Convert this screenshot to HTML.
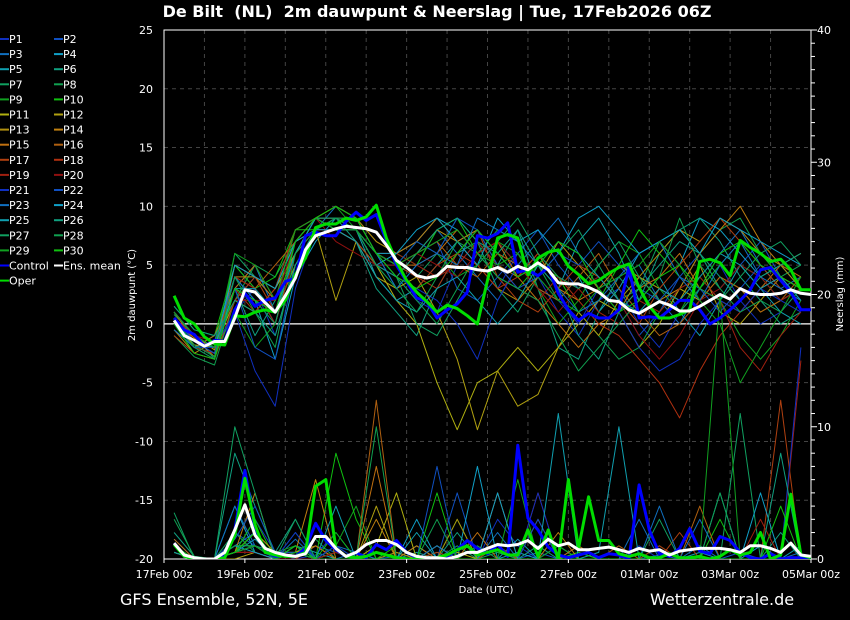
<!DOCTYPE html>
<html><head><meta charset="utf-8"><style>
html,body{margin:0;padding:0;background:#000;width:850px;height:620px;overflow:hidden}
svg{display:block;font-family:"DejaVu Sans","Liberation Sans",sans-serif}
</style></head><body>
<svg id="c" width="850" height="620" viewBox="0 0 850 620">
<rect width="850" height="620" fill="#000"/>
<text x="437" y="17" fill="#fff" font-size="16" font-weight="bold" text-anchor="middle" style="white-space:pre" xml:space="preserve">De Bilt  (NL)  2m dauwpunt &amp; Neerslag | Tue, 17Feb2026 06Z</text>
<text x="120" y="605" fill="#fff" font-size="16">GFS Ensemble, 52N, 5E</text>
<text x="650" y="605" fill="#fff" font-size="16">Wetterzentrale.de</text>
<text x="486" y="593" fill="#fff" font-size="10" text-anchor="middle">Date (UTC)</text>
<text transform="translate(135,295) rotate(-90)" fill="#fff" font-size="10" text-anchor="middle">2m dauwpunt (°C)</text>
<text transform="translate(843,294) rotate(-90)" fill="#fff" font-size="10" text-anchor="middle">Neerslag (mm)</text>
<g id="grid"></g>
<g id="axes"></g>
<defs><clipPath id="pc"><rect x="164" y="30" width="647" height="529"/></clipPath></defs>
<g id="series" clip-path="url(#pc)"></g>
<g id="legend"></g>
</svg>
<script>
const dateLabels=["17Feb 00z","19Feb 00z","21Feb 00z","23Feb 00z","25Feb 00z","27Feb 00z","01Mar 00z","03Mar 00z","05Mar 00z"];
const tempTicks=[25,20,15,10,5,0,-5,-10,-15,-20];
const precTicks=[40,30,20,10,0];
const meanT=[0.3,-1.0,-1.4,-1.9,-1.5,-1.5,0.5,2.9,2.7,1.8,1.0,2.4,3.9,6.3,7.5,7.8,8.1,8.3,8.2,8.1,7.8,6.7,5.4,4.8,4.1,3.9,4.1,4.9,4.8,4.8,4.6,4.5,4.8,4.4,4.9,4.6,5.2,4.6,3.5,3.4,3.4,3.1,2.7,2.0,1.9,1.2,0.9,1.4,1.9,1.6,1.1,1.1,1.5,2.0,2.5,2.1,3.0,2.6,2.5,2.5,2.6,2.9,2.6,2.5];
const operT=[2.4,0.5,0,-1.1,-1.7,-1.8,0.7,0.6,1.0,1.2,1.0,2.0,4.2,5.6,8.2,8.5,8.5,9.0,8.8,9.1,10.1,7.3,5.3,3.7,2.7,1.9,1.0,1.6,1.3,0.7,0,3.7,7.3,7.6,7.3,4.2,5.6,6.1,6.3,4.9,4.2,3.4,3.7,4.3,4.8,5.1,3.1,1.5,0.5,0.5,0.8,1.2,5.3,5.5,5.2,4.1,7.1,6.5,6.0,5.3,5.5,4.6,2.9,2.9];
const ctrlT=[0.5,-0.5,-0.9,-1.9,-1.4,-1.5,1.2,2.6,1.5,2.0,2.2,3.6,3.9,7.5,7.8,7.5,7.5,8.7,9.5,8.8,9.3,7.1,5.0,3.6,2.2,1.9,0.5,1.2,1.7,2.7,7.5,7.3,7.7,8.6,4.4,4.6,4.1,4.8,2.6,1.2,0.3,0.9,0.5,0.5,1.2,4.8,0.5,0.6,0.5,1.2,2.0,2.0,1.2,0,0.5,1.2,2.0,2.9,4.6,4.8,3.7,2.7,1.2,1.2];
const meanP=[1.2,0.3,0.1,0,0,0.5,2.2,4.1,1.8,0.8,0.5,0.3,0.2,0.4,1.7,1.7,0.8,0.2,0.5,1.1,1.4,1.4,1.1,0.5,0.2,0.1,0.1,0,0.2,0.5,0.5,0.8,1.1,1.0,1.1,1.4,0.8,1.5,1.0,1.2,0.7,0.7,0.8,0.9,0.7,0.5,0.8,0.6,0.7,0.3,0.6,0.7,0.8,0.8,0.8,0.7,0.5,1.0,1.0,0.8,0.5,1.2,0.3,0.2];
const operP=[1.1,0.2,0,0,0,0.1,1.8,6.1,2.6,0.5,0.3,0.2,0.2,0.5,5.5,6.0,0.8,0.2,0.1,0.2,0.5,0.3,0.1,0,0,0,0.1,0.3,0.7,1.0,0.3,0.5,0.7,0.3,0.3,2.2,0.2,2.2,0,6.0,0.8,4.7,1.4,1.4,0.4,0.2,0.4,0.1,0.1,0.4,0.1,0.1,0.2,0,0.2,0.7,0.3,0.5,2.0,0,0.3,4.9,0.3,0.1];
const ctrlP=[1.2,0.2,0,0,0,0.2,2.2,6.7,2.3,0.5,0.2,0.3,0.2,0.8,2.7,1.4,0.7,0.2,0.5,0.1,1.1,0.7,1.4,0.5,0.1,0,0.1,0.2,0.7,1.4,0.8,0.4,1.1,0.2,8.6,3.1,2.2,0.9,0.3,0.1,0.3,0.5,0.1,0.4,0.3,0,5.6,2.2,0.4,0.2,0.8,2.3,0.6,0.4,1.7,1.4,0.5,0.1,0,0.4,0,0.1,0.1,0.1];
const memT=[
[0,-2,-2.5,1,3,-1,5,8,9,8,6,4,2,1,5,7,3,6,4,1,-1,2,3,0,-2,1,3,5,2,0,1,3],
[1,-1,-2,2,4,2,6,9,8,7,5,5,6,7,3,2,4,6,8,5,3,4,2,-1,1,4,6,3,5,7,4,2],
[-0.5,-2,-1,3,5,1,7,8,10,9,6,3,5,8,6,4,2,5,7,9,6,3,4,5,2,0,3,6,8,5,3,4],
[0.5,-1.5,-2.5,4,2,-3,4,7,9,8,5,6,7,9,8,6,7,5,3,2,4,1,3,6,7,5,9,8,6,4,5,3],
[1,-1,-2,5,3,0,6,9,8,8,4,2,3,5,7,8,6,4,5,3,7,9,6,2,4,1,-1,2,5,3,1,0],
[0,-2.5,-3,3,-1,2,7,9,9,7,3,1,-1,3,6,7,5,8,3,-2,-3,1,4,2,6,8,9,7,4,2,0,1],
[0.8,-1,-3,6,4,3,8,9,8,8,6,5,4,6,9,7,3,1,4,6,8,5,2,3,7,8,6,3,5,4,2,3],
[-1,-2.8,-3.5,2,5,4,7,8,9,8,5,4,2,0,3,6,8,7,5,2,1,-1,-3,-2,1,3,6,8,9,6,4,5],
[0.5,-2,-2,1,-2,0,6,9,10,8,6,5,7,6,4,5,7,6,3,0,2,5,7,6,3,1,4,2,-1,-3,-1,2],
[1.5,-0.5,-1,5,3,4,8,8,9,9,7,6,5,8,9,6,4,3,5,4,1,2,5,8,6,4,3,5,7,6,4,3],
[0,-1.8,-2,2,1,3,6,9,8,7,5,2,0,-5,-9,-5,-4,-2,-4,-2,0,2,1,-2,0,3,2,4,3,1,2,3],
[1,-1,-2.2,3,2,1,5,8,2,7,4,3,4,1,-3,-9,-4,-7,-6,-2,1,-1,2,4,3,2,5,1,0,2,4,3],
[-0.5,-2.5,-1.5,4,4,3,7,9,9,8,6,5,6,8,7,5,3,2,4,7,5,3,1,4,6,8,7,9,8,6,5,3],
[0.3,-1.2,-2.8,5,4,2,8,9,10,9,7,6,7,9,7,8,5,4,6,3,2,3,5,4,2,3,6,8,10,7,5,6],
[0,-2,-1,3,5,2,6,8,9,8,6,5,5,6,8,6,7,4,2,0,-2,0,1,3,4,6,3,2,1,3,5,4],
[1,-1.5,-2,4,3,5,7,9,9,8,5,4,6,7,5,4,6,5,3,2,4,6,3,1,-1,0,2,4,3,1,2,4],
[-1,-2.5,-3,2,4,1,7,8,8,7,5,4,3,5,6,8,4,2,1,3,5,4,2,0,3,5,7,9,7,5,3,2],
[0.5,-1,-2,3,1,3,8,9,9,9,6,5,4,3,6,5,3,4,6,4,2,0,-1,-3,-5,-8,-4,-1,1,3,4,3],
[0,-2,-2.5,4,3,0,6,8,8,8,6,6,5,4,5,7,5,3,2,4,3,1,0,2,1,3,4,2,-2,-4,-1,1],
[1,-1,-1.5,2,2,2,7,9,7,6,5,5,6,5,4,6,7,5,3,1,3,4,2,-1,-3,-1,2,3,5,4,2,3],
[0,-2,-2,1,-4,-7,3,8,9,8,5,4,3,2,0,-3,2,5,4,2,0,3,1,-2,-4,-3,0,2,1,3,2,1],
[0.5,-1.5,-2.5,3,-2,-3,5,8,9,8,6,5,7,6,9,8,5,3,4,6,5,7,5,3,2,4,3,1,3,5,4,2],
[-0.5,-2,-1.5,4,2,1,6,9,9,8,6,3,5,6,5,9,8,7,5,3,1,2,4,6,7,4,2,5,7,4,3,2],
[1,-1,-2,5,4,3,7,8,8,8,6,6,8,9,7,5,9,7,8,6,9,10,8,6,7,8,6,9,8,7,6,5],
[0,-1.5,-2,3,3,1,6,9,8,7,4,2,1,3,4,2,0,2,5,7,6,4,2,1,3,2,4,6,5,3,4,2],
[1.5,-0.5,-1,2,1,-1,5,8,9,8,5,4,6,8,9,7,6,8,5,3,-1,-3,1,3,5,7,6,4,2,4,5,6],
[0,-2,-3,3,2,0,7,9,9,9,6,4,0,-1,2,5,7,9,6,4,3,5,7,4,2,1,3,2,4,6,7,5],
[0.5,-1.8,-2.8,4,1,-2,6,8,9,8,5,3,1,4,7,6,4,3,2,-1,-4,-2,0,2,4,9,5,3,1,2,1,3],
[1,-1,-2,6,5,2,8,9,8,8,6,5,6,7,8,6,5,6,4,2,1,3,4,5,7,5,2,0,-5,-2,1,4],
[0,-2.5,-3,3,2,1,7,9,10,9,6,4,3,4,6,8,6,4,5,7,6,3,1,2,4,5,3,6,7,5,4,3]];
const memP=[
[1,0,0,0.5,3,0.5,0,0.3,2,0,0,0.5,0,1,0,0,3,1,0,0,0,0,0,1,0,0,0,0,0,0,0,0],
[0.5,0,0,2,1,0.5,0,1,0.5,0,0,0.2,0,0,5,0,1,0,0.5,0,1,0,0,0,0.3,0,0,0,0.5,0,0,0],
[1.5,0,0,1,2,0,1.5,0,1,0.5,0,0,1,0,0,0,2,0,0,0,0.5,0,0,3,0,0,1,0,0,0,0,0.5],
[0.5,0,0,4,0.5,0,2,0,0.5,0,0,0,3,0,0,7,0,0.5,0,1,0,0,0,0,0,0,0,5,0,1,0,0],
[1,0,0,0.5,1.5,0,1,0.5,0,0,0.5,0,0,0.5,0,0,0,1.5,0,0,0,0.5,10,0,0,0,0.5,0,0,0,0,1],
[2,0.2,0,8,4,0.5,3,0,1,0,0,0,0.5,0,2,0,0,0,1,0,0,0,0,0,0,0,0,0,0,0,2,0],
[3.5,0,0,1,1,0.5,0.5,0,0.5,0,0,0,0,0,1,0,0.5,0,0,0,0,0,0,0,0,0,0,0,11,0,0,0],
[0.5,0,0,2,0.5,0,0.5,1.5,0,0,0,0,0,0,0,1,0,0,0,0,0,0,0,0,0,0,0,5,0,0,0,0],
[1,0,0,0.5,2,0.5,1,0,1,4,0,0.5,0,1,0,0,0,6,0,1,0,0,0,0,1,0,0,0,0,0,0,0],
[1,0,0,0.5,3,0,1,0,8,3,0,0,0,0,3,0,1,0,0,0,0.5,0,0,0,0,0,0,3,0,0,0,0],
[0.5,0,0,0.5,1,0,0.5,0,0.5,0,1,5,0,0,0.5,0,0,0,0,0,0,0,0,0,0,0,0,0,0,0,0,0],
[1,0,0,0,0.5,0,0.5,1,0,0,4,0,0,1,0,0,0,0,0,0,0,0,0,0,0,0,0,0,0,0,0,0],
[1,0,0,0.5,2,0.5,0.5,0,0,0,0,0.5,0,0,3,0,1,0,0,0,0,0,0,0,0,0,0,0,0,0,0,0],
[0.5,0,0,0.5,5,0,0.5,6,0,0,3,0,1,0,0,0,0,0,0,2,0,0,0,0,0,0,0,0,0,0,0,0],
[1.5,0,0,0.5,1,0,0,1,0,0,7,0,0,0,0,2,0,0,0,0,1,0,0,0,0,0,0,0,0,0,0,0],
[1,0,0,0.5,1,0,0.5,0,0,0,12,0,0,0,0,0,5,0,0,0,0,0,1,0,0,0,4,0,0,0,0,0],
[0.5,0,0,0.5,1,0,0.5,0,0,0,0,0,0,0.5,0,0,1,0,3,0,0,0,0,0,0,2,0,0,0,0,12,0],
[1,0,0,0.5,0.5,0,0.5,0,0,0,0,0,0,0,0,0,0,0,0,0,0,0,0,0,1,0,0,0,0,0,0,0],
[0.5,0,0,0.5,0.5,0,0,0,0,0,0,0,0,0,0,0,0,0,5,0,0,0,0,0,0,0,0,0,0,3,0,15],
[1,0,0,0.5,0.5,0,0,0,0.5,0,0,0,0,0,0,0,0,0,0,0,0,0,0,0,0,0,0,0,0,0,0,0],
[0.5,0,0,0.5,1,0,2,0,1,0,0,0,0,0,0,0,0,0,5,0,0,0,0,0,0,0,0,0,0,0,0,16],
[1,0,0,1.5,4,0.5,0.5,0,0,0,0,0,0,7,0,0,0,0,3,0,0,0,0,0,0,0,0,0,0,0,0,0],
[1,0,0,4,1,0,0.5,0,0,0.5,0,0,0,1,0,0,0,0,0,0,0,0,0,0,4,0,3,0,0,0,0,0],
[0.5,0,0,1,0.5,0,1,0,0,0,0,0,0,0,0,0,5,0,0,0,0,0,0,0,0,0,0,0,0,5,0,0],
[1,0,0,0.5,1,0,0.5,0,4,0,0,0,2,0,0,0,0,0,0,11,0,0,0,0,0,0,0,0,0,0,0,0],
[0.5,0,0,0.5,1,0,0.5,0,0,0,0,0,0,0,0,0,0,0,0,0,0,0,0,0,0,0,0,0,0,0,8,0],
[1,0,0,10,5,0,3,0,0,0,0,0,0,0,0,0,0,0,0,0,0,0,0,0,3,0,0,0,0,0,0,0],
[3,0.2,0,1,1,0,0.5,0,0,0,10,0,0,3,0,0,0,0,0,0,0,0,0,0,0,0,0,0,0,0,0,0],
[1,0,0,0.5,1,0,0.5,0,0,0,0,0,0,0,0,0,0,0,0,0,0,0,0,0,0,0,0,20,0,0,0,0],
[1,0,0,0.5,2,0,1,0,2,0,0,1,0,5,0,0,0,0,0,0,0,0,0,0,0,0,0,0,0,0,4,0]];
const memColors=["#1030c0","#1050c0","#1070c0","#10a0c8","#10a0b0","#10a080","#10a060","#10a050","#10a020","#10c010","#b0b010","#b0a010","#b09010","#c08010","#c07010","#b06010","#b04010","#b03010","#a02010","#901010"];

const X0=164,X1=811,Y0=30,Y1=559;
const pxDay=(X1-X0)/16;
function xStep6(i){return X0+pxDay*(0.25+i*0.25);}
function xStep12(i){return X0+pxDay*(0.25+i*0.5);}
function yT(v){return Y0+(25-v)*(Y1-Y0)/45;}
function yP(v){return Y1-v*(Y1-Y0)/40;}
const NS="http://www.w3.org/2000/svg";
function mk(tag,attrs,parent){const e=document.createElementNS(NS,tag);for(const k in attrs)e.setAttribute(k,attrs[k]);parent.appendChild(e);return e;}
const grid=document.getElementById('grid'),axes=document.getElementById('axes'),ser=document.getElementById('series'),leg=document.getElementById('legend');

for(let d=1;d<16;d++){const x=X0+d*pxDay;const l=mk('line',{x1:x,x2:x,y1:Y0,y2:Y1,stroke:'#444','stroke-dasharray':'4,4'},grid);

}
tempTicks.forEach(v=>{if(v===25||v===-20)return;const y=yT(v);const l=mk('line',{x1:X0,x2:X1,y1:y,y2:y,stroke:v===0?'#fff':'#444','stroke-dasharray':v===0?'none':'4,4','stroke-width':v===0?1.2:1},grid);

});
const fr=mk('rect',{x:X0,y:Y0,width:X1-X0,height:Y1-Y0,fill:'none',stroke:'#fff','stroke-width':1},axes);


tempTicks.forEach(v=>{const y=yT(v);const t=mk('text',{x:153,y:y+4,fill:'#fff','font-size':11,'text-anchor':'end'},axes);t.textContent=v;

});
for(let m=0;m<=40;m++){const y=yP(m);const major=m%10===0;mk('line',{x1:X1,x2:X1+(major?6:4),y1:y,y2:y,stroke:'#fff'},axes);}
precTicks.forEach(v=>{const y=yP(v);const t=mk('text',{x:817,y:y+4,fill:'#fff','font-size':11},axes);t.textContent=v;

});
dateLabels.forEach((s,i)=>{const x=X0+i*2*pxDay;mk('line',{x1:x,x2:x,y1:Y1,y2:Y1+4,stroke:'#fff'},axes);const t=mk('text',{x:x,y:578,fill:'#fff','font-size':11,'text-anchor':'middle'},axes);t.textContent=s;

});

function line(arr,xf,yf,color,w,name){const pts=arr.map((v,i)=>xf(i).toFixed(1)+','+yf(v).toFixed(1)).join(' ');const p=mk('polyline',{points:pts,fill:'none',stroke:color,'stroke-width':w,'stroke-linejoin':'round'},ser);

}
memT.forEach((a,i)=>line(a,xStep12,yT,memColors[i%20],1,'member-p'+(i+1)+'-dewpoint'));
memP.forEach((a,i)=>line(a,xStep12,yP,memColors[i%20],1,'member-p'+(i+1)+'-precip'));
line(ctrlT,xStep6,yT,'#0000ff',3,'control-dewpoint');
line(ctrlP,xStep6,yP,'#0000ff',3,'control-precip');
line(operT,xStep6,yT,'#00dd00',3,'oper-dewpoint');
line(operP,xStep6,yP,'#00dd00',3,'oper-precip');
line(meanT,xStep6,yT,'#ffffff',3,'ens-mean-dewpoint');
line(meanP,xStep6,yP,'#ffffff',3,'ens-mean-precip');

const entries=[];for(let i=1;i<=30;i++)entries.push(['P'+i,memColors[(i-1)%20]]);
entries.push(['Control','#0000ff'],['Ens. mean','#ffffff'],['Oper','#00dd00']);
entries.forEach((e,i)=>{const col=i%2,row=Math.floor(i/2);const x=col?54:0,y=39+row*15.1;
const g=mk('g',{},leg);


mk('line',{x1:x,x2:x+9,y1:y,y2:y,stroke:e[1],'stroke-width':2},g);
const t=mk('text',{x:x+9,y:y+4,fill:'#fff','font-size':11},g);t.textContent=e[0];});
</script>
</body></html>
